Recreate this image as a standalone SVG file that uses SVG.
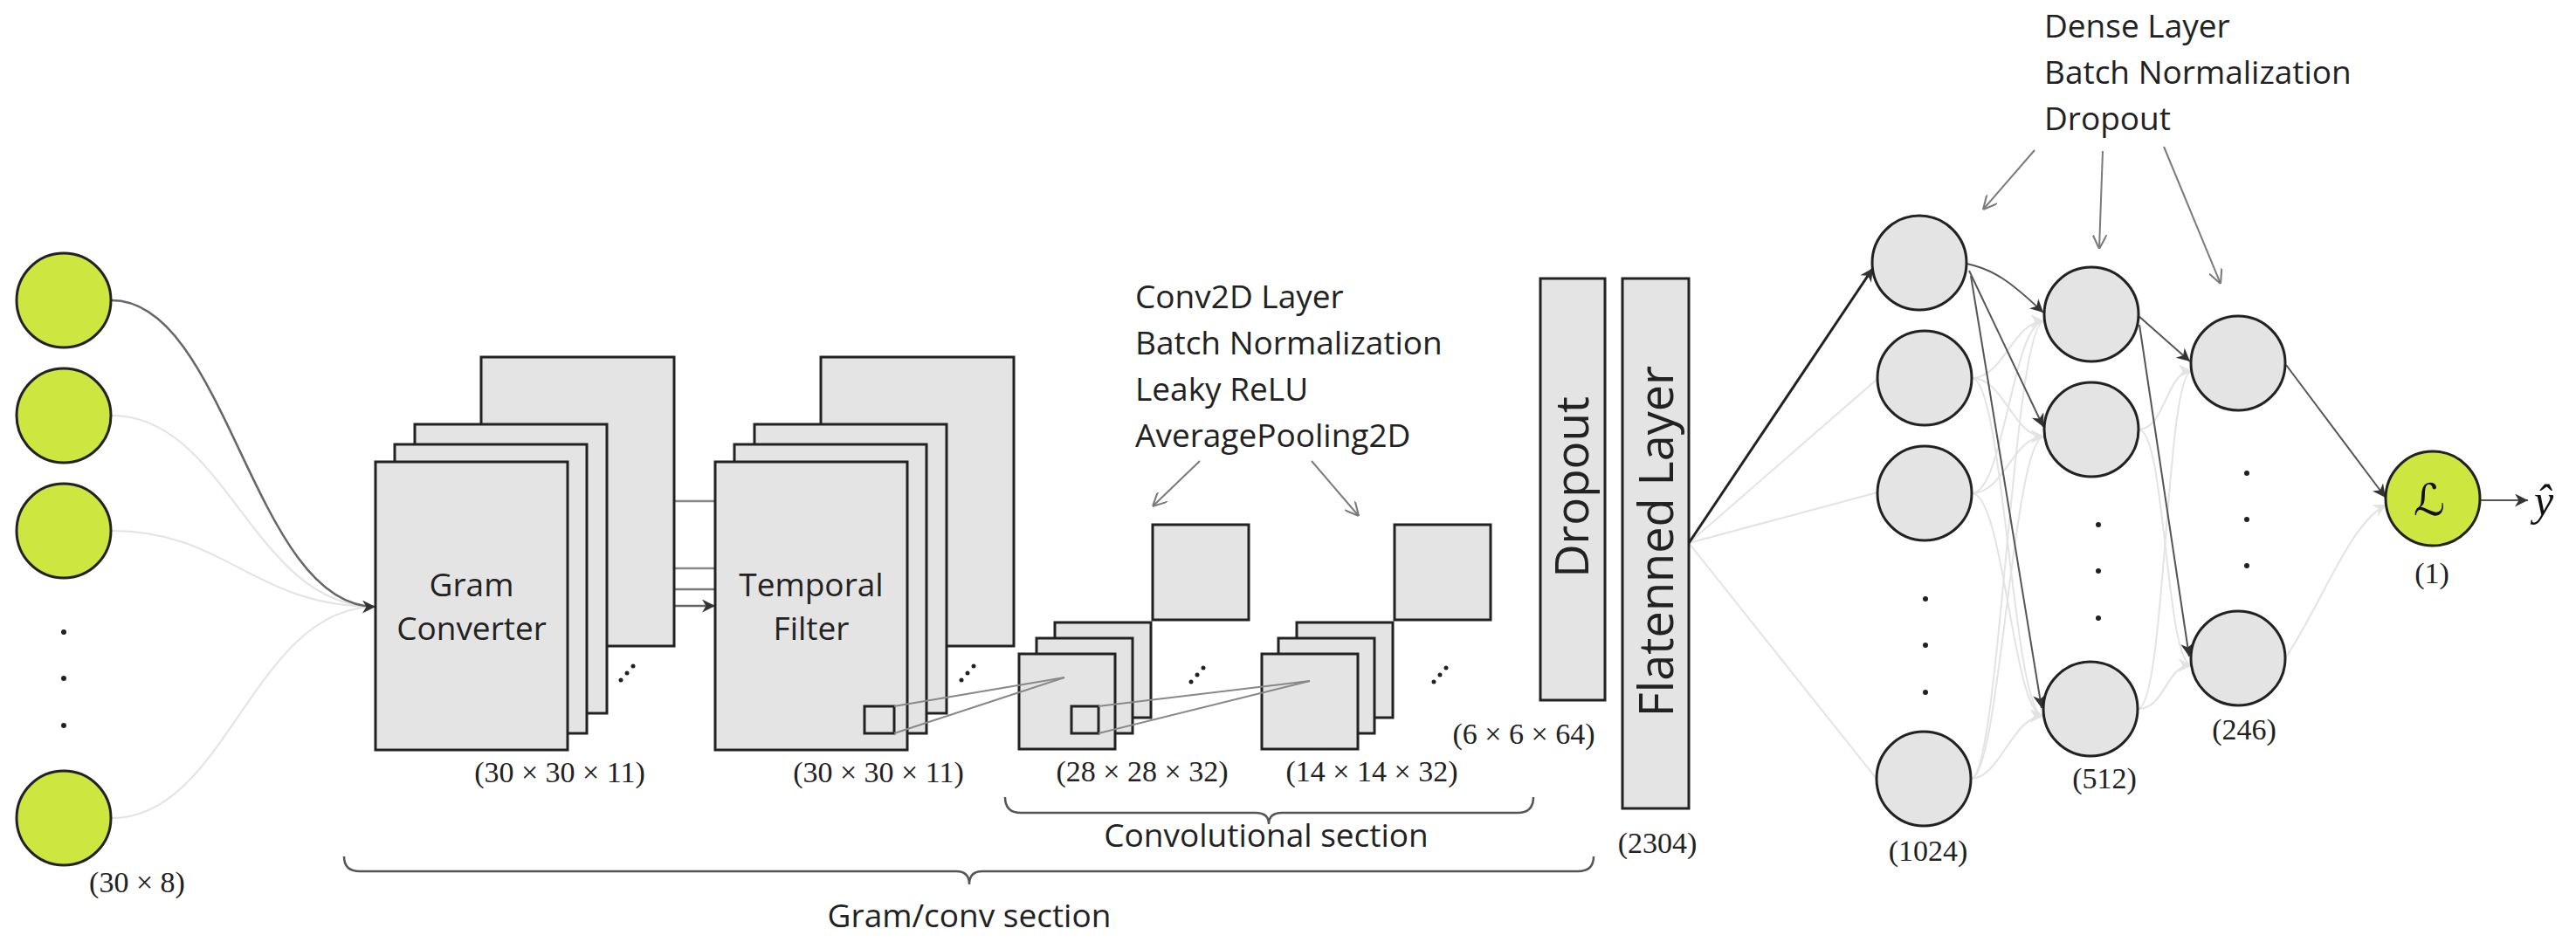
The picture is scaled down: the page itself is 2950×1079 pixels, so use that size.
<svg xmlns="http://www.w3.org/2000/svg" width="2950" height="1079" viewBox="0 0 2950 1079">
<style>
.blk{fill:#e4e4e4;stroke:#222;stroke-width:3}
.grn{fill:#cde640;stroke:#222;stroke-width:3}
.nd{fill:#e4e4e4;stroke:#222;stroke-width:3}
.t{font-family:"Open Sans","Noto Sans",sans-serif;font-size:37px;fill:#222}
.m{font-family:"Liberation Serif","DejaVu Serif",serif;font-size:34px;fill:#222;text-anchor:middle}
.lt{fill:none;stroke:#e3e3e3;stroke-width:2}
.dk{fill:none;stroke:#555;stroke-width:2}
.gl{fill:none;stroke:#7a7a7a;stroke-width:2}
.br{fill:none;stroke:#555;stroke-width:2.5}
.dot{fill:#222}
</style>
<defs>
<marker id="ad" viewBox="0 0 10 10" refX="10" refY="5" markerWidth="18" markerHeight="15" markerUnits="userSpaceOnUse" orient="auto"><path d="M0,0 L10,5 L0,10 L3,5 z" fill="#333"/></marker>
<marker id="al" viewBox="0 0 10 10" refX="10" refY="5" markerWidth="18" markerHeight="15" markerUnits="userSpaceOnUse" orient="auto"><path d="M0,0 L10,5 L0,10 L3,5 z" fill="#e3e3e3"/></marker>
<marker id="av" viewBox="0 0 10 10" refX="10" refY="5" markerWidth="16" markerHeight="16" markerUnits="userSpaceOnUse" orient="auto"><path d="M0,0 L10,5 L0,10" fill="none" stroke="#7a7a7a" stroke-width="1.3"/></marker>
</defs>
<rect width="2950" height="1079" fill="#fff"/>

<g id="connectors">
  <path class="lt" d="M128,476 C260,476 290,695 430,695"/>
  <path class="lt" d="M128,608 C260,608 290,695 430,695"/>
  <path class="lt" d="M128,937 C260,937 290,695 430,695"/>
  <path d="M128,344 C260,344 290,695 430,695" fill="none" stroke="#666" stroke-width="2.5" marker-end="url(#ad)"/>
  <line x1="772" y1="574" x2="819" y2="574" stroke="#888" stroke-width="2.5"/>
  <line x1="695" y1="651" x2="819" y2="651" stroke="#888" stroke-width="2.5"/>
  <line x1="672" y1="675" x2="819" y2="675" stroke="#777" stroke-width="2.5"/>
  <line x1="650" y1="694" x2="819" y2="694" stroke="#666" stroke-width="2.5" marker-end="url(#ad)"/>
  <line class="lt" x1="1934" y1="622" x2="2150" y2="434"/>
  <line class="lt" x1="1934" y1="622" x2="2150" y2="564"/>
  <line class="lt" x1="1934" y1="622" x2="2149" y2="892"/>
  <line x1="1934" y1="622" x2="2145" y2="307" stroke="#222" stroke-width="3" marker-end="url(#ad)"/>
  <path class="lt" d="M2258,433 C2295,433 2305,368 2341,368" marker-end="url(#al)"/>
  <path class="lt" d="M2258,433 C2295,433 2305,500 2341,500" marker-end="url(#al)"/>
  <path class="lt" d="M2258,433 C2295,433 2305,820 2340,820" marker-end="url(#al)"/>
  <path class="lt" d="M2258,565 C2295,565 2305,368 2341,368" marker-end="url(#al)"/>
  <path class="lt" d="M2258,565 C2295,565 2305,500 2341,500" marker-end="url(#al)"/>
  <path class="lt" d="M2258,565 C2295,565 2305,820 2340,820" marker-end="url(#al)"/>
  <path class="lt" d="M2257,892 C2290,892 2305,368 2341,368" marker-end="url(#al)"/>
  <path class="lt" d="M2257,892 C2290,892 2305,500 2341,500" marker-end="url(#al)"/>
  <path class="lt" d="M2257,892 C2290,892 2305,820 2340,820" marker-end="url(#al)"/>
  <path class="lt" d="M2449,492 C2480,492 2480,425 2510,425" marker-end="url(#al)"/>
  <path class="lt" d="M2449,492 C2480,492 2480,762 2510,762" marker-end="url(#al)"/>
  <path class="lt" d="M2448,812 C2480,812 2480,425 2510,425" marker-end="url(#al)"/>
  <path class="lt" d="M2448,812 C2480,812 2480,762 2510,762" marker-end="url(#al)"/>
  <path class="lt" d="M2617,754 C2660,690 2690,600 2733,578" marker-end="url(#al)"/>
  <path class="dk" d="M2252,302 C2282,308 2302,322 2340,358" marker-end="url(#ad)"/>
  <line class="dk" x1="2255" y1="310" x2="2340" y2="489" marker-end="url(#ad)"/>
  <line class="dk" x1="2257" y1="316" x2="2338" y2="811" marker-end="url(#ad)"/>
  <line class="dk" x1="2448" y1="361" x2="2508" y2="414" marker-end="url(#ad)"/>
  <line class="dk" x1="2450" y1="372" x2="2507" y2="752" marker-end="url(#ad)"/>
  <line class="dk" x1="2618" y1="418" x2="2732" y2="570" marker-end="url(#ad)"/>
  <line class="dk" x1="2840" y1="573" x2="2895" y2="573" marker-end="url(#ad)"/>
  <line class="gl" x1="1374" y1="528" x2="1320" y2="580" marker-end="url(#av)"/>
  <line class="gl" x1="1502" y1="528" x2="1556" y2="591" marker-end="url(#av)"/>
  <line class="gl" x1="2330" y1="172" x2="2271" y2="240" marker-end="url(#av)"/>
  <line class="gl" x1="2408" y1="173" x2="2404" y2="285" marker-end="url(#av)"/>
  <line class="gl" x1="2478" y1="168" x2="2543" y2="325" marker-end="url(#av)"/>
</g>

<g id="inputs">
  <circle class="grn" cx="73" cy="344" r="54"/>
  <circle class="grn" cx="73" cy="476" r="54"/>
  <circle class="grn" cx="73" cy="608" r="54"/>
  <circle class="grn" cx="73" cy="937" r="54"/>
  <circle class="dot" cx="73" cy="724" r="3"/>
  <circle class="dot" cx="73" cy="777" r="3"/>
  <circle class="dot" cx="73" cy="831" r="3"/>
  <text class="m" x="157" y="1022">(30 × 8)</text>
</g>

<g id="gram">
  <rect class="blk" x="551" y="409" width="221" height="331"/>
  <rect class="blk" x="475" y="486" width="220" height="331"/>
  <rect class="blk" x="452" y="509" width="220" height="331"/>
  <rect class="blk" x="430" y="529" width="220" height="330"/>
  <text class="t" x="540" y="683" text-anchor="middle">Gram</text>
  <text class="t" x="540" y="733" text-anchor="middle">Converter</text>
  <circle class="dot" cx="711" cy="779" r="2.5"/><circle class="dot" cx="718" cy="771" r="2.5"/><circle class="dot" cx="725" cy="763" r="2.5"/>
  <text class="m" x="641" y="896">(30 × 30 × 11)</text>
</g>

<g id="temporal">
  <rect class="blk" x="940" y="409" width="221" height="331"/>
  <rect class="blk" x="864" y="486" width="220" height="331"/>
  <rect class="blk" x="841" y="509" width="220" height="331"/>
  <rect class="blk" x="819" y="529" width="220" height="330"/>
  <rect x="990" y="809" width="34" height="31" fill="none" stroke="#222" stroke-width="3"/>
  <text class="t" x="929" y="683" text-anchor="middle">Temporal</text>
  <text class="t" x="929" y="733" text-anchor="middle">Filter</text>
  <circle class="dot" cx="1101" cy="779" r="2.5"/><circle class="dot" cx="1108" cy="771" r="2.5"/><circle class="dot" cx="1115" cy="763" r="2.5"/>
  <text class="m" x="1006" y="896">(30 × 30 × 11)</text>
</g>

<g id="conv1">
  <rect class="blk" x="1320" y="601" width="110" height="109"/>
  <rect class="blk" x="1208" y="713" width="110" height="109"/>
  <rect class="blk" x="1187" y="731" width="110" height="109"/>
  <rect class="blk" x="1167" y="749" width="110" height="109"/>
  <rect x="1227" y="809" width="31" height="31" fill="none" stroke="#222" stroke-width="3"/>
  <circle class="dot" cx="1364" cy="781" r="2.5"/><circle class="dot" cx="1371" cy="773" r="2.5"/><circle class="dot" cx="1378" cy="765" r="2.5"/>
  <text class="m" x="1308" y="895">(28 × 28 × 32)</text>
</g>

<g id="conv2">
  <rect class="blk" x="1597" y="601" width="110" height="109"/>
  <rect class="blk" x="1485" y="713" width="110" height="109"/>
  <rect class="blk" x="1464" y="731" width="110" height="109"/>
  <rect class="blk" x="1445" y="749" width="110" height="109"/>
  <circle class="dot" cx="1642" cy="781" r="2.5"/><circle class="dot" cx="1649" cy="773" r="2.5"/><circle class="dot" cx="1656" cy="765" r="2.5"/>
  <text class="m" x="1571" y="895">(14 × 14 × 32)</text>
  <text class="m" x="1745" y="852">(6 × 6 × 64)</text>
</g>

<g id="projections">
  <line x1="1024" y1="809" x2="1219" y2="776" stroke="#888" stroke-width="2"/>
  <line x1="1024" y1="840" x2="1219" y2="776" stroke="#888" stroke-width="2"/>
  <line x1="1258" y1="809" x2="1500" y2="780" stroke="#888" stroke-width="2"/>
  <line x1="1258" y1="840" x2="1500" y2="780" stroke="#888" stroke-width="2"/>
</g>

<g id="convlabel">
  <text class="t" x="1300" y="353">Conv2D Layer</text>
  <text class="t" x="1300" y="406">Batch Normalization</text>
  <text class="t" x="1300" y="459">Leaky ReLU</text>
  <text class="t" x="1300" y="512">AveragePooling2D</text>
</g>

<g id="dropout">
  <rect class="blk" x="1764" y="319" width="74" height="483"/>
  <text class="t" style="font-size:53px" text-anchor="middle" transform="translate(1819,558) rotate(-90)">Dropout</text>
</g>

<g id="flatten">
  <rect class="blk" x="1858" y="319" width="76" height="607"/>
  <text class="t" style="font-size:54px" text-anchor="middle" transform="translate(1916,620) rotate(-90)">Flatenned Layer</text>
  <text class="m" x="1898" y="977">(2304)</text>
</g>

<g id="braces">
  <path class="br" d="M1151,913 Q1151,931 1169,931 L1438,931 Q1453,931 1453,944 Q1453,931 1468,931 L1738,931 Q1756,931 1756,913"/>
  <text class="t" x="1450" y="970" text-anchor="middle">Convolutional section</text>
  <path class="br" d="M394,981 Q394,998 412,998 L1095,998 Q1110,998 1110,1013 Q1110,998 1125,998 L1807,998 Q1825,998 1825,981"/>
  <text class="t" x="1110" y="1062" text-anchor="middle">Gram/conv section</text>
</g>

<g id="dense1024">
  <circle class="nd" cx="2198" cy="301" r="54"/>
  <circle class="nd" cx="2204" cy="433" r="54"/>
  <circle class="nd" cx="2204" cy="565" r="54"/>
  <circle class="nd" cx="2203" cy="892" r="54"/>
  <circle class="dot" cx="2205" cy="686" r="3"/><circle class="dot" cx="2205" cy="739" r="3"/><circle class="dot" cx="2205" cy="793" r="3"/>
  <text class="m" x="2208" y="986">(1024)</text>
</g>

<g id="dense512">
  <circle class="nd" cx="2395" cy="360" r="54"/>
  <circle class="nd" cx="2395" cy="492" r="54"/>
  <circle class="nd" cx="2394" cy="812" r="54"/>
  <circle class="dot" cx="2403" cy="601" r="3"/><circle class="dot" cx="2403" cy="654" r="3"/><circle class="dot" cx="2403" cy="708" r="3"/>
  <text class="m" x="2410" y="903">(512)</text>
</g>

<g id="dense246">
  <circle class="nd" cx="2563" cy="416" r="54"/>
  <circle class="nd" cx="2563" cy="754" r="54"/>
  <circle class="dot" cx="2573" cy="542" r="3"/><circle class="dot" cx="2573" cy="595" r="3"/><circle class="dot" cx="2573" cy="648" r="3"/>
  <text class="m" x="2570" y="847">(246)</text>
</g>

<g id="denselabel">
  <text class="t" x="2341" y="43">Dense Layer</text>
  <text class="t" x="2341" y="96">Batch Normalization</text>
  <text class="t" x="2341" y="149">Dropout</text>
</g>

<g id="output">
  <circle class="grn" cx="2786" cy="571" r="54"/>
  <text x="2782" y="590" text-anchor="middle" style="font-family:'DejaVu Serif','DejaVu Sans',serif;font-size:50px;font-style:italic;fill:#111">ℒ</text>
  <text class="m" x="2785" y="668">(1)</text>
  <text x="2902" y="590" style="font-family:'Liberation Serif','DejaVu Serif',serif;font-size:50px;font-style:italic;fill:#111">ŷ</text>
</g>
</svg>
